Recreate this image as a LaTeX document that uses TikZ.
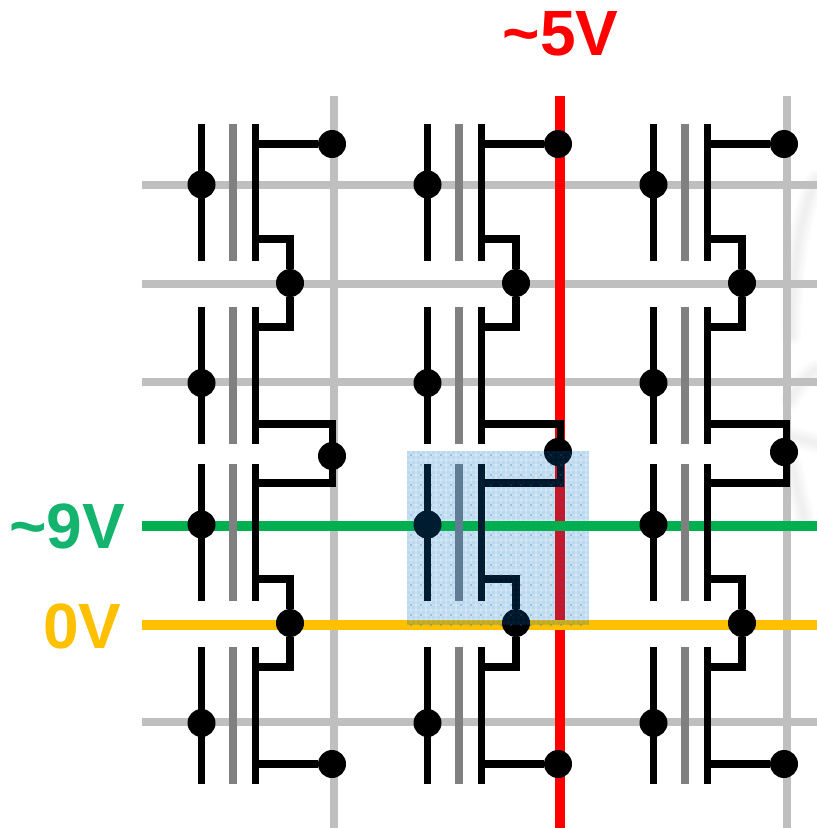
\documentclass[tikz,border=0pt]{standalone}
\usepackage{fontspec}
\setmainfont{Liberation Sans}
\definecolor{wordgrey}{HTML}{BFBFBF}
\definecolor{gategrey}{HTML}{808080}
\definecolor{hotred}{HTML}{FF0000}
\definecolor{hotgreen}{HTML}{00B050}
\definecolor{hotyellow}{HTML}{FFC000}
\definecolor{txtgreen}{HTML}{14B46E}
\definecolor{tint}{HTML}{0070C0}
\definecolor{navy}{HTML}{001C30}
\definecolor{tintgrey}{HTML}{607C94}
\tikzset{
  grid line/.style={wordgrey,line width=7.2pt},
  hot line/.style={line width=10pt},
  wire/.style={black,line width=7.6pt,line join=miter},
  floating/.style={gategrey,line width=7.6pt},
  joint/.style={circle,fill=black,minimum size=28pt,inner sep=0pt,outer sep=0pt},
  volt/.style={font=\bfseries\fontsize{64}{64}\selectfont,inner sep=0pt,anchor=base},
  haze/.style={black,opacity=0.011,line cap=round,line join=round}
}
\begin{document}
\begin{tikzpicture}[x=1pt,y=-1pt]
\useasboundingbox (0,0) rectangle (817,828);
\clip (0,0) rectangle (817,828);
% faint smudge at the right
\foreach \w in {5,9,13,17,21}{
  \draw[haze,line width=\w pt] (816,180) .. controls (800,215) and (792,270) .. (791,335);
  \draw[haze,line width=\w pt] (816,370) .. controls (805,378) and (795,388) .. (790,400);
  \draw[haze,line width=\w pt] (791,437) -- (817,443);
  \draw[haze,line width=\w pt] (793,467) .. controls (796,485) and (800,500) .. (804,517);
}
% coordinates of the array ends
\coordinate (westA) at (142,185); \coordinate (eastA) at (817,185);
\coordinate (westB) at (142,284); \coordinate (eastB) at (817,284);
\coordinate (westC) at (142,382); \coordinate (eastC) at (817,382);
\coordinate (westD) at (142,526); \coordinate (eastD) at (817,526);
\coordinate (westE) at (142,625); \coordinate (eastE) at (817,625);
\coordinate (westF) at (142,722); \coordinate (eastF) at (817,722);
\coordinate (topA) at (334,96); \coordinate (botA) at (334,828);
\coordinate (topB) at (560,96); \coordinate (botB) at (560,828);
\coordinate (topC) at (787,96); \coordinate (botC) at (787,828);
% grey lines
\foreach \n in {A,B,C,F}{\draw[grid line] (west\n) -- (east\n);}
\draw[grid line] (topA) -- (botA);
\draw[grid line] (topC) -- (botC);
% energised lines
\draw[hot line,hotred] (topB) -- (botB);
\draw[hot line,hotyellow] (westE) -- (eastE);
\draw[hot line,hotgreen] (westD) -- (eastD);
% cells
\foreach \c/\dx/\midy/\bitx in {1/0/456/332.5,2/226/452/334.3,3/452/452/334.5}{
  \begin{scope}[shift={(\dx,0)}]
  \foreach \r/\ya/\yb in {1/124/261,2/307/444,3/464/601,4/647/784}{
    \coordinate (g\c\r t) at (201.5,\ya); \coordinate (g\c\r b) at (201.5,\yb);
    \coordinate (f\c\r t) at (232.7,\ya); \coordinate (f\c\r b) at (232.7,\yb);
    \coordinate (s\c\r t) at (255.5,\ya); \coordinate (s\c\r b) at (255.5,\yb);
    \draw[floating] (f\c\r t) -- (f\c\r b);
    \draw[wire] (g\c\r t) -- (g\c\r b);
    \draw[wire] (s\c\r t) -- (s\c\r b);
  }
  % drain and source joints
  \node[joint] (dt\c) at (332,144) {};
  \node[joint] (dm\c) at (332,\midy) {};
  \node[joint] (db\c) at (332,764) {};
  \node[joint] (su\c) at (290,283) {};
  \node[joint] (sl\c) at (290,623) {};
  % gate joints
  \node[joint] (ga\c) at (201.5,184.5) {};
  \node[joint] (gb\c) at (201.5,383) {};
  \node[joint] (gc\c) at (201.5,524.5) {};
  \node[joint] (gd\c) at (201.5,723) {};
  % connections
  \coordinate (j1) at (255.5,144);
  \draw[wire] (j1) -- (dt\c);
  \coordinate (j2) at (255.5,764);
  \draw[wire] (j2) -- (db\c);
  \coordinate (j3) at (255.5,239);
  \draw[wire] (j3) -| (su\c);
  \coordinate (j4) at (255.5,327);
  \draw[wire] (j4) -| (su\c);
  \coordinate (j5) at (255.5,579);
  \draw[wire] (j5) -| (sl\c);
  \coordinate (j6) at (255.5,667);
  \draw[wire] (j6) -| (sl\c);
  \coordinate (j7) at (255.5,424);
  \coordinate (j8) at (255.5,483);
  \coordinate (k7) at (\bitx,424);
  \coordinate (k8) at (\bitx,483);
  \draw[wire] (j7) -- (k7) -- (k8) -- (j8);
  \end{scope}
}
% translucent selection over the middle cell
\fill[tint,opacity=0.17] (407,451) rectangle (589,625);
\begin{scope}
  \clip (407,451) rectangle (589,625);
  \foreach \i in {0,...,36}{
    \fill[tint,opacity=0.06] ({407+\i*5},451) rectangle ({409.5+\i*5},625);
  }
  \foreach \i in {0,...,34}{
    \fill[tint,opacity=0.06] (407,{451+\i*5}) rectangle (589,{453.5+\i*5});
  }
  \foreach \i in {0,...,18}{
    \foreach \k in {0,...,17}{
      \fill[tint,opacity=0.3] ({410+\i*10},{454+\k*10}) rectangle +(1.6,1.6);
    }
  }
  % the green line and the cell's parts stay above the tint
  \coordinate (cl) at (407,526); \coordinate (cr) at (589,526);
  \draw[hot line,hotgreen] (cl) -- (cr);
  \draw[tintgrey,line width=7.6pt] (f23t) -- (f23b);
  \draw[navy,line width=7.6pt] (g23t) -- (g23b);
  \draw[navy,line width=7.6pt] (s23t) -- (s23b);
  \node[joint,fill=navy] at (gc2) {};
\end{scope}
% voltage labels
\node[volt,hotred] (lbred) at (560.5,55) {\textasciitilde5V};
\node[volt,txtgreen] (lbgreen) at (67,548) {\textasciitilde9V};
\node[volt,hotyellow] (lbyellow) at (82.5,648) {0V};
\end{tikzpicture}
\end{document}
